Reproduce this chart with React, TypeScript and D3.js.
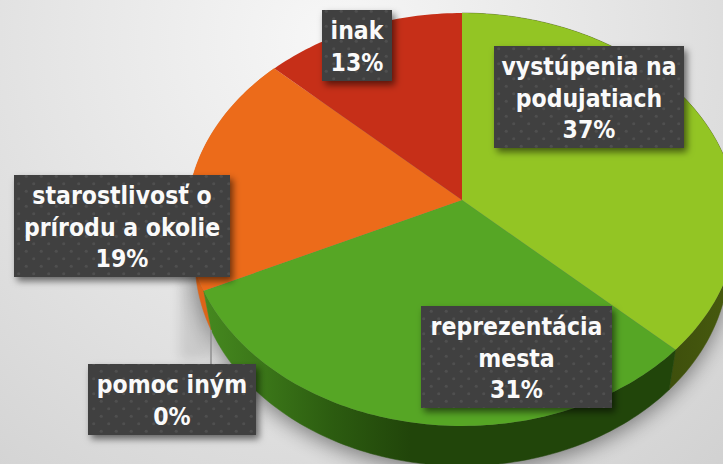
import React from 'react';
import { pie, line, range, path as d3path } from 'd3';

const categories = ['vystúpenia na podujatiach', 'reprezentácia mesta', 'pomoc iným', 'starostlivosť o prírodu a okolie', 'inak'];
const values = [37, 31, 0, 19, 13];
const labelLines = [['vystúpenia na', 'podujatiach'], ['reprezentácia', 'mesta'], ['pomoc iným'], ['starostlivosť o', 'prírodu a okolie'], ['inak']];

const W = 723;
const H = 464;
const topColors = ['#93c524', '#56a625', '#3f7f1c', '#ec6b1a', '#c62f18'];
const wallColors = ['url(#wallLime)', 'url(#wallGreen)', '#3f7f1c', '#dd6418', '#a02812'];
// label boxes: left, top, right, bottom
const boxes = [
	[494, 46, 684, 148],
	[421, 306, 612, 408],
	[88, 364, 256, 435],
	[14, 175, 230, 277],
	[322, 10, 392, 81],
];

// tilted disc: apex of the slices sits above the middle of the ellipse
const CX = 462;
const CY = 200;
const A = 274;
const B = 204.6;
const K = 0.0944;
const DEPTH = 40;
const LOWER_SCALE = 0.97; // the underside of the disc is a bit narrower

const project = (angle: number, lower = false, extra = 0): [number, number] => {
	const u = Math.sin(angle);
	const v = -Math.cos(angle);
	const w = 1 - K * v;
	const x = (A * u) / w;
	const y = (B * v) / w;
	return lower ? [CX + x * LOWER_SCALE, CY + y + DEPTH + extra] : [CX + x, CY + y];
};

const sampleArc = (a0: number, a1: number, lower = false, extra = 0) => {
	const n = Math.max(2, Math.ceil((a1 - a0) / 0.02));
	return range(n + 1).map((i) => project(a0 + ((a1 - a0) * i) / n, lower, extra));
};

const lineGen = line();
const slices = pie<number>().sort(null).value((d) => d)(values);

const wedgePath = (a0: number, a1: number) => `${lineGen([[CX, CY], ...sampleArc(a0, a1)])}Z`;
const wallPath = (a0: number, a1: number) =>
	`${lineGen([...sampleArc(a0, a1), ...sampleArc(a0, a1, true).reverse()])}Z`;
const shadowPath = `${lineGen(sampleArc(0, Math.PI * 2, true, 6))}Z`;

// paint the walls back to front: the ones at the sides first, lower ones last
const wallOrder = [3, 0, 1];

export default function App() {
	const leader = d3path();
	leader.moveTo(211, 330);
	leader.lineTo(211, 364);

	return (
		<svg
			width={W}
			height={H}
			viewBox={`0 0 ${W} ${H}`}
			style={{ position: 'absolute', left: 0, top: 0, display: 'block' }}
			fontFamily="'DejaVu Sans Condensed', 'DejaVu Sans', sans-serif"
		>
			<defs>
				<radialGradient id="bg" gradientUnits="userSpaceOnUse" cx="330" cy="40" r="600">
					<stop offset="0%" stopColor="#f7f7f7" />
					<stop offset="50%" stopColor="#e4e4e4" />
					<stop offset="100%" stopColor="#d0d0d0" />
				</radialGradient>
				<linearGradient id="wallGreen" gradientUnits="userSpaceOnUse" x1="205" y1="0" x2="410" y2="0">
					<stop offset="0%" stopColor="#45881f" />
					<stop offset="30%" stopColor="#3a7518" />
					<stop offset="62%" stopColor="#2c5c10" />
					<stop offset="100%" stopColor="#21450a" />
				</linearGradient>
				<linearGradient id="wallLime" gradientUnits="userSpaceOnUse" x1="668" y1="0" x2="723" y2="0">
					<stop offset="0%" stopColor="#3e4f0c" />
					<stop offset="100%" stopColor="#46590e" />
				</linearGradient>
				<pattern id="dots" width="15" height="15" patternUnits="userSpaceOnUse">
					<rect width="15" height="15" fill="#404040" />
					<circle cx="3.7" cy="3.7" r="1.5" fill="#505050" />
					<circle cx="11.2" cy="11.2" r="1.5" fill="#505050" />
				</pattern>
				<filter id="boxShadow" x="-20%" y="-20%" width="140%" height="150%">
					<feDropShadow dx="3" dy="4" stdDeviation="3.5" floodColor="#000" floodOpacity="0.55" />
				</filter>
				<filter id="blurBig" x="-20%" y="-20%" width="140%" height="140%">
					<feGaussianBlur stdDeviation="10" />
				</filter>
				<filter id="blurSmall" x="-50%" y="-50%" width="200%" height="200%">
					<feGaussianBlur stdDeviation="6" />
				</filter>
			</defs>

			<rect width={W} height={H} fill="url(#bg)" />
			<path d={shadowPath} fill="#000" opacity={0.42} filter="url(#blurBig)" />
			<rect x={180} y={280} width={28} height={80} fill="#000" opacity={0.1} filter="url(#blurSmall)" />

			{wallOrder.map((i) => (
				<path
					key={categories[i]}
					d={wallPath(slices[i].startAngle, slices[i].endAngle)}
					fill={wallColors[i]}
					stroke={wallColors[i]}
					strokeWidth={0.5}
				/>
			))}
			{slices.map((s, i) =>
				values[i] > 0 ? (
					<path key={categories[i]} d={wedgePath(s.startAngle, s.endAngle)} fill={topColors[i]} />
				) : null,
			)}

			<path d={leader.toString()} fill="none" stroke="#8f8f8f" strokeWidth={1.5} />

			{categories.map((c, i) => {
				const [x0, y0, x1, y1] = boxes[i];
				const rows = [...labelLines[i], `${values[i]}%`];
				const mid = (x0 + x1) / 2;
				const lh = 31.2;
				const first = (y0 + y1) / 2 - ((rows.length - 1) * lh) / 2 + 9.5;
				return (
					<g key={c}>
						<rect x={x0} y={y0} width={x1 - x0} height={y1 - y0} fill="url(#dots)" filter="url(#boxShadow)" />
						{rows.map((r, j) => (
							<text
								key={r}
								x={mid}
								y={first + j * lh}
								textAnchor="middle"
								fontSize={24.5}
								fontWeight={700}
								fill="#fafafa"
							>
								{r}
							</text>
						))}
					</g>
				);
			})}
		</svg>
	);
}
